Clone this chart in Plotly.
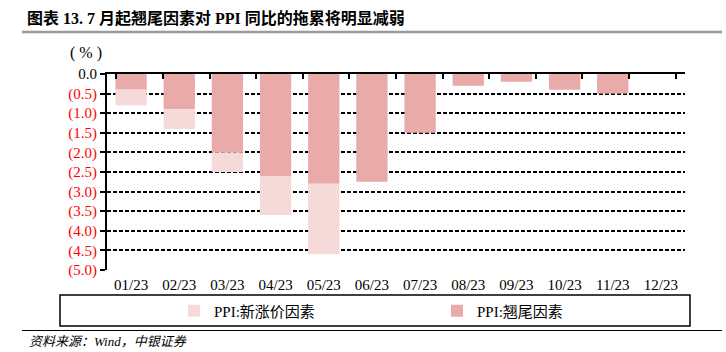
import plotly.graph_objects as go

W, H = 726, 352

months = ["01/23", "02/23", "03/23", "04/23", "05/23", "06/23",
          "07/23", "08/23", "09/23", "10/23", "11/23", "12/23"]
carryover = [-0.4, -0.9, -2.0, -2.6, -2.8, -2.75, -1.5, -0.3, -0.2, -0.4, -0.5, 0.0]
new_price = [-0.4, -0.5, -0.5, -1.0, -1.8, None, None, None, None, None, None, None]
ytick_vals = [0.0, -0.5, -1.0, -1.5, -2.0, -2.5, -3.0, -3.5, -4.0, -4.5, -5.0]
ytick_text = ["<span style='color:black'>0.0</span>", "(0.5)", "(1.0)", "(1.5)", "(2.0)",
              "(2.5)", "(3.0)", "(3.5)", "(4.0)", "(4.5)", "(5.0)"]

DARK = "#E9AAAA"
LIGHT = "#F6DADA"
SERIF = "Liberation Serif, Noto Sans CJK SC, serif"


def px(x):
    return x / W


def py(y):
    return 1 - y / H


fig = go.Figure()
fig.add_trace(go.Bar(x=months, y=carryover, name="PPI:翘尾因素",
                     marker=dict(color=DARK, line=dict(width=0)),
                     hoverinfo="skip"))
fig.add_trace(go.Bar(x=months, y=new_price, name="PPI:新涨价因素",
                     marker=dict(color=LIGHT, line=dict(width=0)),
                     hoverinfo="skip"))
# invisible helper trace to carry the top (zero-line) category axis
fig.add_trace(go.Scatter(x=months, y=[0] * len(months), xaxis="x2", mode="markers",
                         marker=dict(opacity=0), showlegend=False, hoverinfo="skip"))

fig.update_layout(
    width=W, height=H,
    margin=dict(l=0, r=0, t=0, b=0),
    paper_bgcolor="white", plot_bgcolor="white",
    barmode="relative", bargap=0.35,
    font=dict(family=SERIF, size=15, color="black"),
    xaxis=dict(domain=[px(107), px(685)], type="category", categoryorder="array",
               categoryarray=months, showline=False, ticks="", showgrid=False,
               tickfont=dict(size=15), ticklabelstandoff=4, automargin=False),
    xaxis2=dict(domain=[px(107), px(685)], type="category", categoryorder="array",
                categoryarray=months, overlaying="x", side="top", anchor="y",
                showline=True, linecolor="black", linewidth=2,
                ticks="inside", tickson="boundaries", ticklen=5, tickwidth=2,
                tickcolor="black", showticklabels=False, showgrid=False,
                automargin=False),
    yaxis=dict(domain=[py(270), py(74)], range=[-5.0, 0.0],
               tickvals=ytick_vals, ticktext=ytick_text,
               tickfont=dict(size=15, color="red"),
               showline=True, linecolor="black", linewidth=2,
               ticks="outside", ticklen=5, tickwidth=2, tickcolor="black",
               showgrid=True, gridcolor="black", gridwidth=2, griddash="4px,2px",
               zeroline=False, automargin=False),
    legend=dict(orientation="h", x=px(174), y=py(311), xanchor="left", yanchor="middle",
                traceorder="reversed", entrywidth=218, entrywidthmode="pixels",
                font=dict(size=15, family=SERIF), bgcolor="rgba(0,0,0,0)",
                itemclick=False, itemdoubleclick=False),
    showlegend=True,
)

# title, unit and source
fig.add_annotation(xref="paper", yref="paper", x=px(25), y=py(18), xanchor="left",
                   yanchor="middle", showarrow=False,
                   text="<b>图表 13. 7 月起翘尾因素对 PPI 同比的拖累将明显减弱</b>",
                   font=dict(size=16, family=SERIF))
fig.add_annotation(xref="paper", yref="paper", x=px(86), y=py(53), xanchor="center",
                   yanchor="middle", showarrow=False, text="( % )",
                   font=dict(size=16, family=SERIF))
fig.add_annotation(xref="paper", yref="paper", x=px(27), y=py(341), xanchor="left",
                   yanchor="middle", showarrow=False,
                   text="<i>资料来源：Wind，中银证券</i>",
                   font=dict(size=13, family=SERIF))

# decorative rules and legend frame
fig.add_shape(type="line", xref="paper", yref="paper", x0=px(22), x1=px(722),
              y0=py(32), y1=py(32), line=dict(color="#9A9A9A", width=2.5))
fig.add_shape(type="rect", xref="paper", yref="paper", x0=px(60), x1=px(690),
              y0=py(326), y1=py(295), line=dict(color="black", width=1.5))
fig.add_shape(type="line", xref="paper", yref="paper", x0=px(22), x1=px(722),
              y0=py(330.5), y1=py(330.5), line=dict(color="black", width=1))

fig.write_html("out.html")
